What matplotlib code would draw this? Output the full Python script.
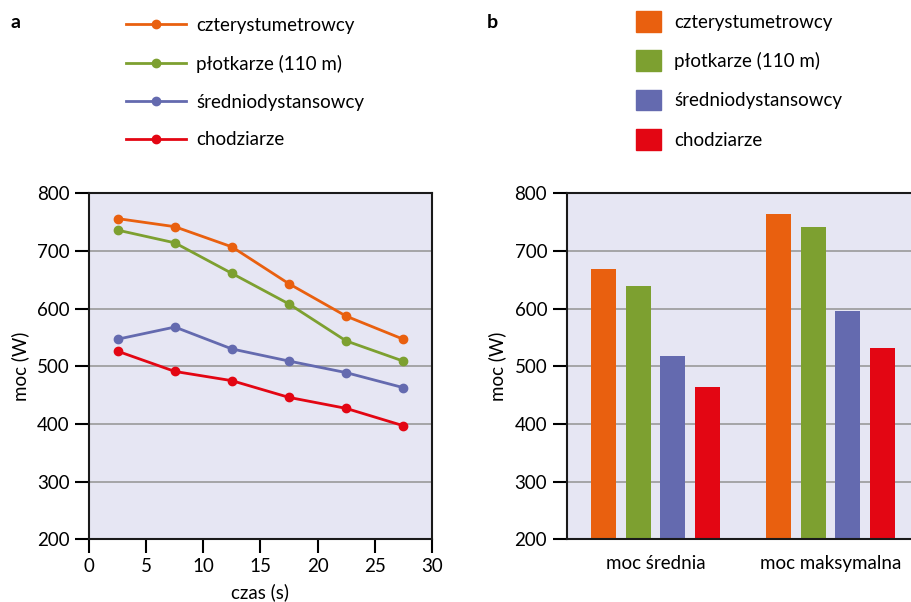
import matplotlib.pyplot as plt
from matplotlib.patches import Patch

plt.rcParams['font.family'] = ['Lato', 'DejaVu Sans']
plt.rcParams['font.size'] = 13.5

# data
czas = [2.5, 7.5, 12.5, 17.5, 22.5, 27.5]
grupy = ['czterystumetrowcy', 'płotkarze (110 m)', 'średniodystansowcy', 'chodziarze']
kolory = ['#E9600F', '#7DA030', '#646AAF', '#E30613']
moc_czas = [
    [756, 742, 707, 643, 587, 547],
    [736, 714, 661, 608, 544, 509],
    [547, 568, 530, 509, 489, 463],
    [526, 491, 475, 446, 427, 397],
]
kategorie = ['moc średnia', 'moc maksymalna']
moc_slupki = [
    [669, 764],
    [639, 742],
    [518, 596],
    [464, 532],
]

tlo = '#E6E6F3'
siatka = '#9A9A9A'

fig = plt.figure(figsize=(9.11, 6.02), dpi=100)
ax1 = fig.add_axes([0.098, 0.1042, 0.3758, 0.5748])
ax2 = fig.add_axes([0.622, 0.1042, 0.378, 0.5748])

for ax in (ax1, ax2):
    ax.set_facecolor(tlo)
    ax.set_ylim(200, 800)
    ax.set_yticks(range(200, 801, 100))
    ax.yaxis.grid(True, color=siatka, lw=1.2)
    ax.set_axisbelow(True)
    ax.tick_params(axis='y', length=10, width=1.5, direction='out', pad=4)
    for s in ax.spines.values():
        s.set_linewidth(1.5)
        s.set_color('#1a1a1a')
    ax.set_ylabel('moc (W)', labelpad=6)

# panel a
for y, c, g in zip(moc_czas, kolory, grupy):
    ax1.plot(czas, y, color=c, lw=2, marker='o', ms=6, label=g)
ax1.set_xlim(0, 30)
ax1.set_xticks(range(0, 31, 5))
ax1.tick_params(axis='x', length=10, width=1.5, direction='out')
ax1.set_xlabel('czas (s)', labelpad=6)
ax1.legend(loc='upper left', bbox_to_anchor=(0.1195, 1.0), bbox_transform=fig.transFigure,
           frameon=False, handlelength=3.2, labelspacing=1.11, handletextpad=0.55)

# panel b
szer = 0.143
odst = 0.198
for i, (y, c, g) in enumerate(zip(moc_slupki, kolory, grupy)):
    pos = [k + (i - 1.5) * odst for k in range(len(kategorie))]
    ax2.bar(pos, [v - 200 for v in y], bottom=200, width=szer, color=c, label=g)
ax2.set_xlim(-0.507, 1.46)
ax2.set_xticks(range(len(kategorie)))
ax2.set_xticklabels(kategorie)
ax2.tick_params(axis='x', length=0, pad=11)
ax2.spines['right'].set_visible(False)
uchwyty = [Patch(color=c) for c in kolory]
ax2.legend(uchwyty, grupy, loc='upper left', bbox_to_anchor=(0.680, 1.01),
           bbox_transform=fig.transFigure, frameon=False, handlelength=1.33, handleheight=1.33,
           labelspacing=0.99, handletextpad=0.7)

fig.text(0.012, 0.963, 'a', fontsize=14, fontweight='bold', va='center')
fig.text(0.534, 0.963, 'b', fontsize=14, fontweight='bold', va='center')

fig.savefig('out.png', dpi=100)
